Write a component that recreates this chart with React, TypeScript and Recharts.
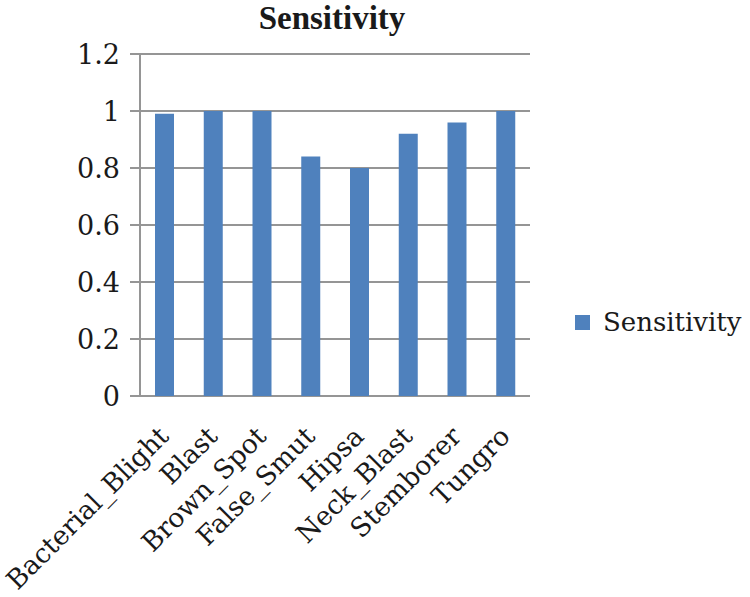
import { BarChart, Bar, XAxis, YAxis, CartesianGrid, Legend } from 'recharts';

const categories = [
  'Bacterial_Blight',
  'Blast',
  'Brown_Spot',
  'False_Smut',
  'Hipsa',
  'Neck_Blast',
  'Stemborer',
  'Tungro',
];
const sensitivity = [0.99, 1, 1, 0.84, 0.8, 0.92, 0.96, 1];
const yTicks = [0, 0.2, 0.4, 0.6, 0.8, 1, 1.2];
const bandEdges = [0, 1, 2, 3, 4, 5, 6, 7, 8];

const data = categories.map((name, i) => ({ name, sensitivity: sensitivity[i] }));

const BAR_COLOR = '#4F81BD';
const LINE_COLOR = '#959595';
const TEXT_COLOR = '#1a1a1a';
const SERIF = '"DejaVu Serif", serif';

function CategoryTick({ x, y, payload }: { x?: number; y?: number; payload?: { value: string } }) {
  if (x == null || y == null || !payload) return null;
  return (
    <g transform={`translate(${x + 6},${y + 42}) rotate(-45)`}>
      <text textAnchor="end" fontFamily={SERIF} fontSize={26.5} fill={TEXT_COLOR}>
        {payload.value}
      </text>
    </g>
  );
}

function SeriesLegend() {
  return (
    <div style={{ width: 220, height: 30, display: 'flex', alignItems: 'center' }}>
      <div style={{ marginLeft: 45, width: 15, height: 15, background: BAR_COLOR }} />
      <span style={{ marginLeft: 13, fontFamily: SERIF, fontSize: 26, color: TEXT_COLOR }}>
        Sensitivity
      </span>
    </div>
  );
}

export default function App() {
  return (
    <div style={{ position: 'absolute', left: 0, top: 0, width: 750, height: 597, background: '#fff' }}>
      <div
        style={{
          position: 'absolute',
          left: 0,
          top: 0,
          width: 664,
          textAlign: 'center',
          fontFamily: '"Liberation Serif", serif',
          fontWeight: 'bold',
          fontSize: 33,
          lineHeight: '37px',
          color: TEXT_COLOR,
        }}
      >
        Sensitivity
      </div>
      <BarChart width={750} height={597} data={data} margin={{ top: 54, right: 0, bottom: 0, left: 0 }}>
        <CartesianGrid vertical={false} stroke={LINE_COLOR} strokeWidth={2} />
        <XAxis
          xAxisId="edges"
          type="number"
          domain={[0, 8]}
          ticks={bandEdges}
          allowDataOverflow
          height={0}
          tick={false}
          tickSize={10}
          stroke={LINE_COLOR}
          strokeWidth={2}
        />
        <XAxis
          xAxisId="cat"
          dataKey="name"
          height={201}
          interval={0}
          axisLine={false}
          tickLine={false}
          tickSize={0}
          tickMargin={0}
          tick={<CategoryTick />}
        />
        <YAxis
          width={140}
          domain={[0, 1.2]}
          ticks={yTicks}
          tickSize={10}
          tickMargin={10}
          stroke={LINE_COLOR}
          strokeWidth={2}
          tick={{ fill: TEXT_COLOR, fontFamily: SERIF, fontSize: 27 }}
        />
        <Legend
          layout="vertical"
          align="right"
          verticalAlign="middle"
          content={() => <SeriesLegend />}
          wrapperStyle={{ top: 307 }}
        />
        <Bar
          xAxisId="cat"
          dataKey="sensitivity"
          name="Sensitivity"
          fill={BAR_COLOR}
          barSize={19}
          isAnimationActive={false}
        />
      </BarChart>
    </div>
  );
}
